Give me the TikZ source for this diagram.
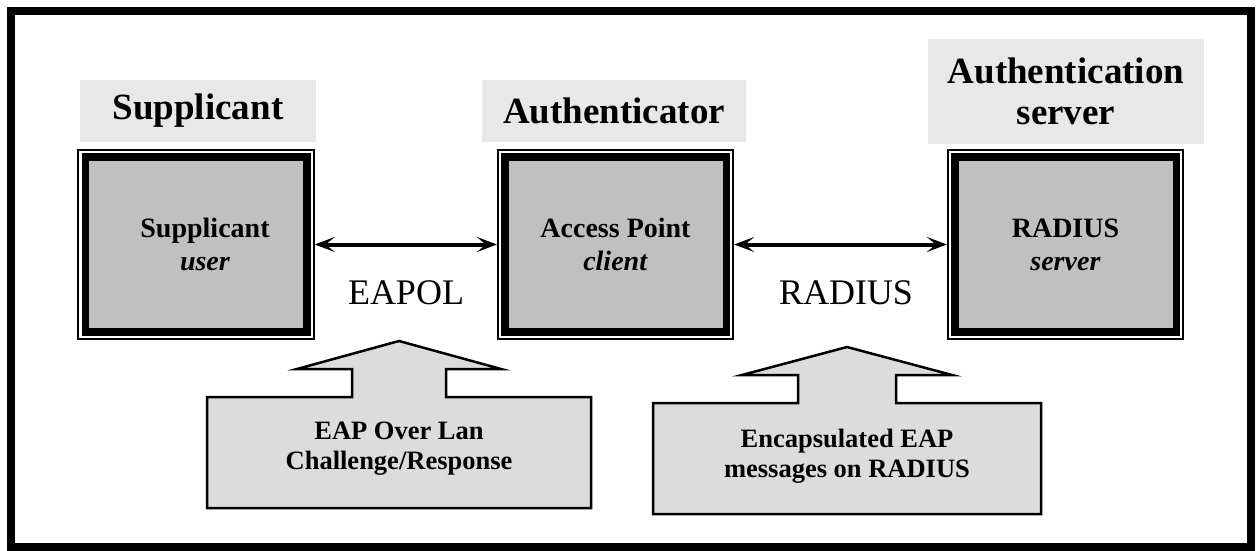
\documentclass[tikz,border=0pt]{standalone}
\usepackage{fontspec}
\setmainfont{Liberation Serif}
\usetikzlibrary{arrows.meta}
\definecolor{hdrbg}{HTML}{E8E8E8}
\definecolor{boxfill}{HTML}{C0C0C0}
\definecolor{callfill}{HTML}{DCDCDC}
\tikzset{
 hdr/.style={fill=hdrbg, inner sep=0pt, align=center, font=\fontsize{37}{41}\selectfont\bfseries},
 outerbox/.style={draw, line width=2pt, minimum width=235.3pt, minimum height=189pt, inner sep=0pt},
 innerbox/.style={draw, line width=7.5pt, fill=boxfill, minimum width=221.5pt, minimum height=175pt, inner sep=0pt, align=center, font=\fontsize{28}{33}\selectfont\bfseries},
 boxtext/.style={inner sep=0pt, align=center, font=\fontsize{28}{33}\selectfont\bfseries},
 link/.style={line width=4pt, {Stealth[length=20pt,width=15pt,inset=9pt]}-{Stealth[length=20pt,width=15pt,inset=9pt]}},
 proto/.style={font=\fontsize{36}{40}\selectfont, inner sep=0pt, anchor=base},
 callout/.style={draw, line width=2.5pt, fill=callfill, line join=miter},
 calltext/.style={font=\fontsize{26.5}{30}\selectfont\bfseries, align=center, inner sep=0pt, anchor=base},
 frame/.style={draw, line width=8pt}
}
\begin{document}
\begin{tikzpicture}[x=1pt,y=-1pt]
\useasboundingbox (0,0) rectangle (1260,551);
\draw[frame] (11,11) rectangle (1251,547);

% headers
\node[hdr, minimum width=236pt, minimum height=62pt] (hsup) at (198,111) {Supplicant};
\node[hdr, minimum width=264pt, minimum height=62pt] (hauth) at (614,111) {Authenticator};
\node[hdr, minimum width=276pt, minimum height=105pt] (hserv) at (1066,91.5) {Authentication\\server};

% boxes
\node[outerbox] (supo) at (196,244.5) {};
\node[innerbox] (sup) at (196,244.5) {};
\node[boxtext] (supt) at (205,244.5) {Supplicant\\\textit{user}};
\node[outerbox] (autho) at (615.5,244.5) {};
\node[innerbox] (auth) at (615.5,244.5) {Access Point\\\textit{client}};
\node[outerbox] (servo) at (1065.5,244.5) {};
\node[innerbox] (serv) at (1065.5,244.5) {RADIUS\\\textit{server}};

% links
\draw[link] (supo.east) -- (autho.west);
\draw[link] (autho.east) -- (servo.west);
\node[proto] (eapol) at (406,304) {EAPOL};
\node[proto] (radius) at (846,304) {RADIUS};

% callouts
\draw[callout] (207,397) -- (352,397) -- (352,369) -- (297,369) -- (399,341)
  -- (501,369) -- (446,369) -- (446,397) -- (591,397) -- (591,508) -- (207,508) -- cycle;
\node[calltext] (eapmsg) at (399,469) {EAP Over Lan\\Challenge/Response};
\draw[callout] (653,403) -- (798,403) -- (798,375) -- (742,375) -- (847,347)
  -- (952,375) -- (896,375) -- (896,403) -- (1041,403) -- (1041,514) -- (653,514) -- cycle;
\node[calltext] (encmsg) at (847,477) {Encapsulated EAP\\messages on RADIUS};
\end{tikzpicture}
\end{document}
